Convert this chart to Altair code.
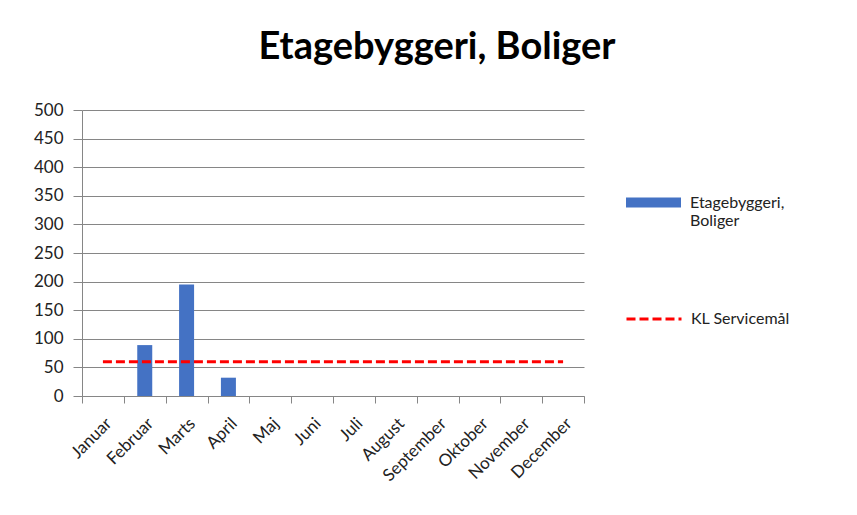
import altair as alt
import pandas as pd

months = ["Januar", "Februar", "Marts", "April", "Maj", "Juni", "Juli",
          "August", "September", "Oktober", "November", "December"]
values = [None, 89, 195, 32, None, None, None, None, None, None, None, None]
target = [60] * 12

bar_name = "Etagebyggeri, Boliger"
line_name = "KL Servicemål"

df = pd.DataFrame({"month": months, "value": values, "target": target,
                   "bar": bar_name, "line": line_name})

FONT = "Lato"

x = alt.X("month:N", sort=months, title=None,
          scale=alt.Scale(paddingInner=0, paddingOuter=0),
          axis=alt.Axis(labelAngle=-45, labelFontSize=17, labelFont=FONT,
                        labelColor="#222", tickBand="extent", tickSize=7,
                        tickColor="#868686", domainColor="#868686",
                        labelPadding=12, grid=False))

yscale = alt.Scale(domain=[0, 500])
yaxis = alt.Axis(values=list(range(0, 501, 50)), labelFontSize=17, labelFont=FONT,
                 labelColor="#222", tickSize=9, tickColor="#868686",
                 domainColor="#868686", gridColor="#868686", gridOpacity=1,
                 labelPadding=10, title=None)

bars = alt.Chart(df).mark_bar(size=15, color="#4472C4").encode(
    x=x,
    y=alt.Y("value:Q", scale=yscale, axis=yaxis),
    color=alt.Color("bar:N", scale=alt.Scale(domain=[bar_name], range=["#4472C4"]),
                    legend=alt.Legend(title=None, orient="none", legendX=543, legendY=64,
                                      symbolType="M-1,-0.18H1V0.18H-1Z", symbolSize=3025,
                                      symbolOpacity=1, labelFontSize=16, labelFont=FONT,
                                      labelColor="#222", labelOffset=8,
                                      labelExpr="['Etagebyggeri,', '\u00a0', 'Boliger']"))
)

line = alt.Chart(df).mark_line(strokeDash=[9, 4], strokeWidth=3).encode(
    x=x,
    y=alt.Y("target:Q", scale=yscale, axis=yaxis),
    color=alt.Color("line:N", scale=alt.Scale(domain=[line_name], range=["#FF0000"]),
                    legend=alt.Legend(title=None, orient="none", legendX=543, legendY=180,
                                      symbolType="stroke", symbolSize=3025,
                                      symbolStrokeWidth=3, symbolDash=[9, 4],
                                      labelFontSize=16, labelFont=FONT,
                                      labelColor="#222", labelOffset=8))
)

chart = alt.layer(bars, line).resolve_scale(color="independent").properties(
    width=502, height=286,
    autosize=alt.AutoSizeParams(type="none"),
    padding={"left": 74, "top": 102, "right": 265, "bottom": 111},
    title=alt.TitleParams(bar_name, fontSize=38, font=FONT, fontWeight="bold",
                          color="#000", anchor="middle", dx=104, offset=4,
                          baseline="alphabetic"),
).configure_view(stroke=None).configure_axisY(domain=True)

chart.save("out.html", embed_options={"renderer": "svg", "actions": False})
